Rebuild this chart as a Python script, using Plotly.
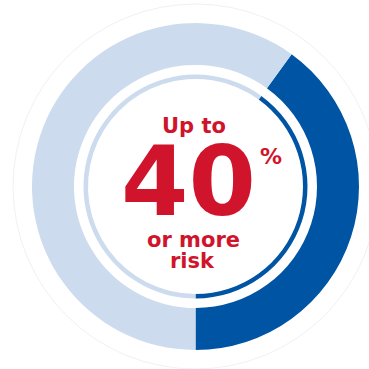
import plotly.graph_objects as go

labels = ["At risk", "Other"]
values = [40, 60]
colors_outer = ["#0054A4", "#CCDCEE"]
colors_inner = ["#0054A4", "#CCDCEE"]

W = H = 369
cx, cy = 195.5, 186.5  # pixel center (from top)

def dom(r):
    cyb = H - cy
    return dict(x=[(cx - r) / W, (cx + r) / W], y=[(cyb - r) / H, (cyb + r) / H])

fig = go.Figure()
fig.add_trace(go.Pie(labels=labels, values=values, sort=False, direction="clockwise",
                     rotation=36, hole=121.5 / 163.5, domain=dom(163.5),
                     marker=dict(colors=colors_outer, line=dict(width=0)),
                     textinfo="none", hoverinfo="skip", showlegend=False))
fig.add_trace(go.Pie(labels=labels, values=values, sort=False, direction="clockwise",
                     rotation=36, hole=107.5 / 112.0, domain=dom(112),
                     marker=dict(colors=colors_inner, line=dict(width=0)),
                     textinfo="none", hoverinfo="skip", showlegend=False))

R = 182.5
fig.add_shape(type="circle", xref="paper", yref="paper",
              x0=(cx - R) / W, x1=(cx + R) / W, y0=(H - cy - R) / H, y1=(H - cy + R) / H,
              line=dict(color="#EEF1F6", width=1), layer="below")

red = "#D0142C"
def ann(text, x, y, size, weight, family):
    fig.add_annotation(text=text, xref="paper", yref="paper", x=x / W, y=1 - y / H,
                       showarrow=False, xanchor="center", yanchor="middle",
                       font=dict(family=family, size=size, color=red, weight=weight))

ann("Up to", 193.5, 126, 21, 700, "DejaVu Sans")
ann("40", 188.5, 181, 97, 700, "DejaVu Sans")
ann("%", 271, 156, 22, 700, "DejaVu Sans")
ann("or more", 193.5, 240, 21, 700, "DejaVu Sans")
ann("risk", 193, 261, 21, 700, "DejaVu Sans")

fig.update_layout(width=W, height=H, margin=dict(l=0, r=0, t=0, b=0),
                  paper_bgcolor="white", plot_bgcolor="white")
fig.write_html("out.html", config={"displayModeBar": False},
               post_script="document.body.style.margin='0';")
